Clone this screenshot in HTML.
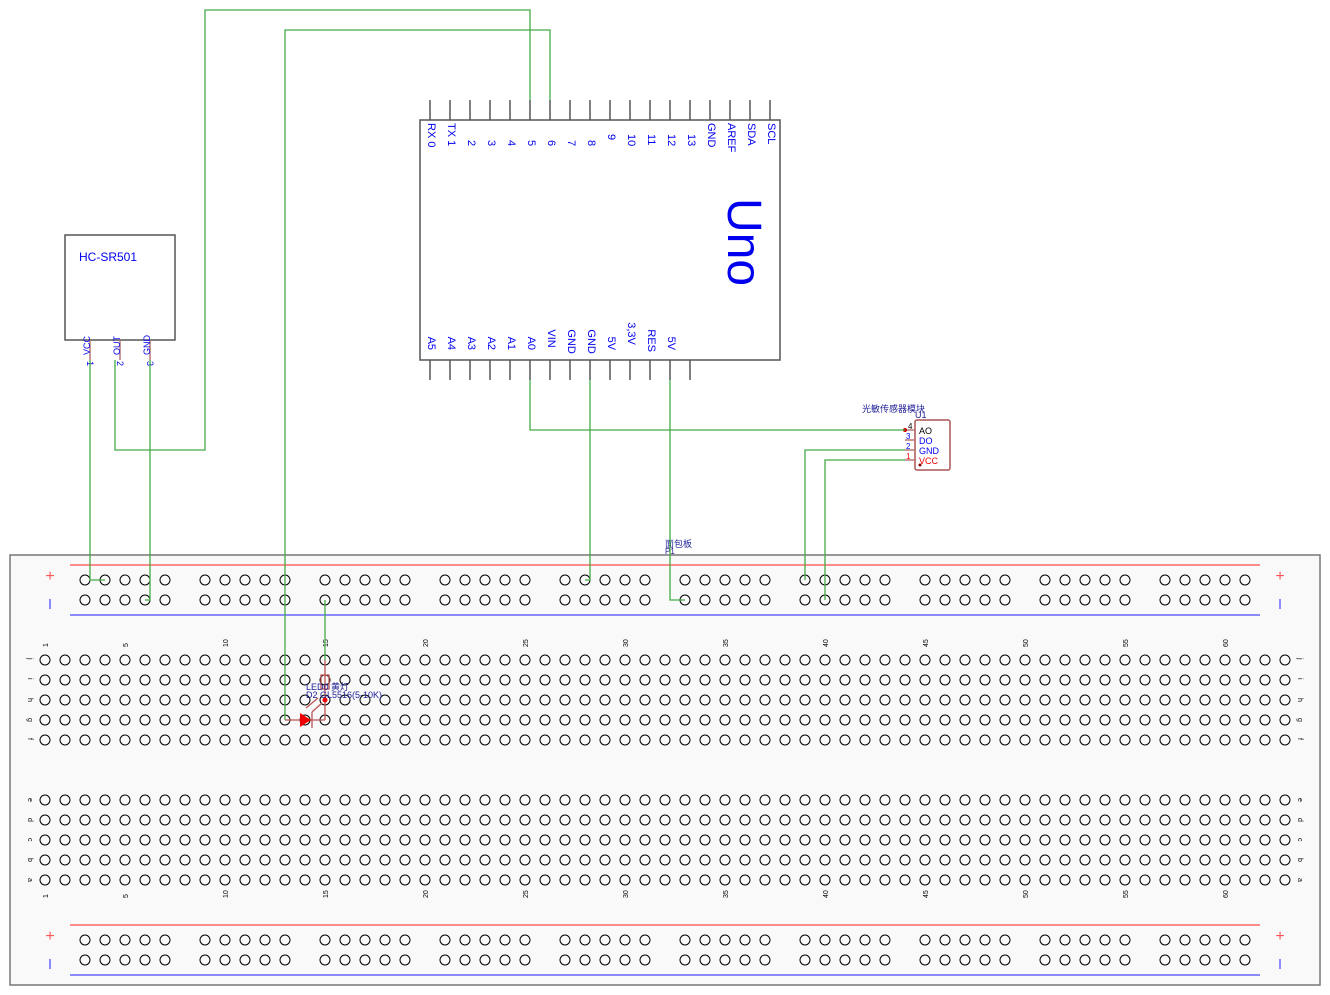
<!DOCTYPE html>
<html><head><meta charset="utf-8"><style>
html,body{margin:0;padding:0;background:#fff;width:1330px;height:995px;overflow:hidden}
svg text{font-family:"Liberation Sans","DejaVu Sans","Noto Sans CJK SC",sans-serif}
</style></head><body>
<svg id="s" width="1330" height="995" xmlns="http://www.w3.org/2000/svg">
<rect x="10" y="555" width="1310" height="430" fill="#f9f9f9" stroke="#777" stroke-width="1.5"/>
<g id="bb" fill="none" stroke="#000" stroke-width="1"></g>
<g stroke-width="1.5">
<line x1="70" y1="565" x2="1260" y2="565" stroke="#f66"/>
<line x1="70" y1="615" x2="1260" y2="615" stroke="#66f"/>
<line x1="70" y1="925" x2="1260" y2="925" stroke="#f66"/>
<line x1="70" y1="975" x2="1260" y2="975" stroke="#66f"/>
</g>
<g font-size="16" fill="#f55" text-anchor="middle"><text x="50" y="581">+</text><text x="1280" y="581">+</text><text x="50" y="941">+</text><text x="1280" y="941">+</text></g>
<g stroke="#66f" stroke-width="1.5"><line x1="50" y1="599" x2="50" y2="609"/><line x1="1280" y1="599" x2="1280" y2="609"/><line x1="50" y1="959" x2="50" y2="969"/><line x1="1280" y1="959" x2="1280" y2="969"/></g>
<g id="lbl" font-size="7" fill="#000"></g>
<text x="665" y="547" font-size="9" fill="#22229a">面包板</text>
<text x="665" y="554" font-size="8" fill="#22229a">P1</text>

<rect x="420" y="120" width="360" height="240" fill="#fff" stroke="#555" stroke-width="1.5"/>
<g id="uno" stroke="#555" stroke-width="1.5"></g>
<g id="unot" font-size="11" fill="#0000ee"></g>
<text transform="translate(728,198) rotate(90)" font-size="48" fill="#0000ee">Uno</text>

<rect x="65" y="235" width="110" height="105" fill="#fff" stroke="#555" stroke-width="1.5"/>
<text x="79" y="261" font-size="12" fill="#0000ee">HC-SR501</text>
<g stroke="#b77" stroke-width="1.5"><line x1="90" y1="340" x2="90" y2="360"/><line x1="120" y1="340" x2="120" y2="360"/><line x1="150" y1="340" x2="150" y2="360"/></g>
<g font-size="9" fill="#0000ee">
<text transform="translate(90,355) rotate(-90)">VCC</text><text transform="translate(120,355) rotate(-90)">OUT</text><text transform="translate(150,355) rotate(-90)">GND</text>
<text transform="translate(87,361) rotate(90)">1</text><text transform="translate(117,361) rotate(90)">2</text><text transform="translate(147,361) rotate(90)">3</text>
</g>

<text x="862" y="412" font-size="9" fill="#22229a">光敏传感器模块</text>
<text x="915" y="418" font-size="9" fill="#22229a">U1</text>
<rect x="915" y="420" width="35" height="50" rx="2" fill="#fff" stroke="#a55" stroke-width="1.5"/>
<g stroke="#b77" stroke-width="1.5"><line x1="905" y1="430" x2="915" y2="430"/><line x1="905" y1="440" x2="915" y2="440"/><line x1="905" y1="450" x2="915" y2="450"/><line x1="905" y1="460" x2="915" y2="460"/></g>
<g font-size="9"><text x="919" y="434" fill="#000">AO</text><text x="919" y="444" fill="#00e">DO</text><text x="919" y="454" fill="#00e">GND</text><text x="919" y="464" fill="#e00">VCC</text>
<text x="908" y="429" fill="#000" font-size="8">4</text><text x="906" y="439" fill="#00e" font-size="8">3</text><text x="906" y="449" fill="#00e" font-size="8">2</text><text x="906" y="459" fill="#e00" font-size="8">1</text></g>
<circle cx="905" cy="430" r="2" fill="#c00"/><circle cx="920" cy="465" r="1.5" fill="#800"/>

<g fill="none" stroke="#4a4" stroke-width="1.3">
<polyline points="90,360 90,580 105,580"/>
<polyline points="115,360 115,450 205,450 205,10 530,10 530,100"/>
<polyline points="150,360 150,600 145,600"/>
<polyline points="285,720 285,30 550,30 550,100"/>
<polyline points="530,380 530,430 905,430"/>
<polyline points="590,380 590,580 585,580"/>
<polyline points="670,380 670,600 685,600"/>
<polyline points="905,450 805,450 805,580"/>
<polyline points="905,460 825,460 825,600"/>
<polyline points="325,600 325,660"/>
</g>
<g stroke="#b55" stroke-width="1.3" fill="none">
<line x1="285" y1="720" x2="325" y2="720"/>
<line x1="325" y1="660" x2="325" y2="720"/>
<rect x="321" y="675" width="8" height="14"/>
<line x1="312" y1="712" x2="312" y2="728"/>
<line x1="306" y1="708" x2="318" y2="698"/><line x1="312" y1="712" x2="322" y2="703"/>
</g>
<polygon points="300,713 300,727 311,720" fill="#e00"/>
<circle cx="325" cy="700" r="2.5" fill="#e00"/>
<text x="306" y="690" font-size="9" fill="#22229a">LED0 黄灯</text>
<text x="306" y="698" font-size="9" fill="#22229a">D2 GL5516(5-10K)</text>
</svg>
<script>
var NS="http://www.w3.org/2000/svg";
function el(p,t,a,txt){var e=document.createElementNS(NS,t);for(var k in a)e.setAttribute(k,a[k]);if(txt!=null)e.textContent=String(txt);document.getElementById(p).appendChild(e);}
[580,600,940,960].forEach(function(y){for(var g=0;g<10;g++)for(var i=0;i<5;i++)el("bb","circle",{cx:85+g*120+i*20,cy:y,r:5});});
var rowsT=["j","i","h","g","f"],rowsB=["e","d","c","b","a"];
for(var r=0;r<5;r++){for(var c=0;c<63;c++){el("bb","circle",{cx:45+c*20,cy:660+r*20,r:5});el("bb","circle",{cx:45+c*20,cy:800+r*20,r:5});}
el("lbl","text",{transform:"translate(28,"+(658+r*20)+") rotate(90)"},rowsT[r]);
el("lbl","text",{transform:"translate(1298,"+(658+r*20)+") rotate(90)"},rowsT[r]);
el("lbl","text",{transform:"translate(28,"+(798+r*20)+") rotate(90)"},rowsB[r]);
el("lbl","text",{transform:"translate(1298,"+(798+r*20)+") rotate(90)"},rowsB[r]);}
var nums=[1,5,10,15,20,25,30,35,40,45,50,55,60];
nums.forEach(function(n){var x=45+(n-1)*20+3;el("lbl","text",{transform:"translate("+x+",647) rotate(-90)"},n);el("lbl","text",{transform:"translate("+x+",898) rotate(-90)"},n);});
var topPins=["RX 0","TX 1","2","3","4","5","6","7","8","9","10","11","12","13","GND","AREF","SDA","SCL"];
for(var i=0;i<18;i++){var x=430+i*20;el("uno","line",{x1:x,y1:100,x2:x,y2:120});var yy;if(i<2)yy=123;else if(i<=8)yy=140;else if(i<=13)yy=134;else yy=123;el("unot","text",{transform:"translate("+(x-2)+","+yy+") rotate(90)"},topPins[i]);}
var bot=["A5","A4","A3","A2","A1","A0","VIN","GND","GND","5V","3,3V","RES","5V"];
for(var i=0;i<14;i++){var x=430+i*20;el("uno","line",{x1:x,y1:360,x2:x,y2:380});if(i<13){var t=bot[i];var w=t.length*7.2;el("unot","text",{transform:"translate("+(x-2)+","+(351-w)+") rotate(90)"},t);}}
</script>
</body></html>
